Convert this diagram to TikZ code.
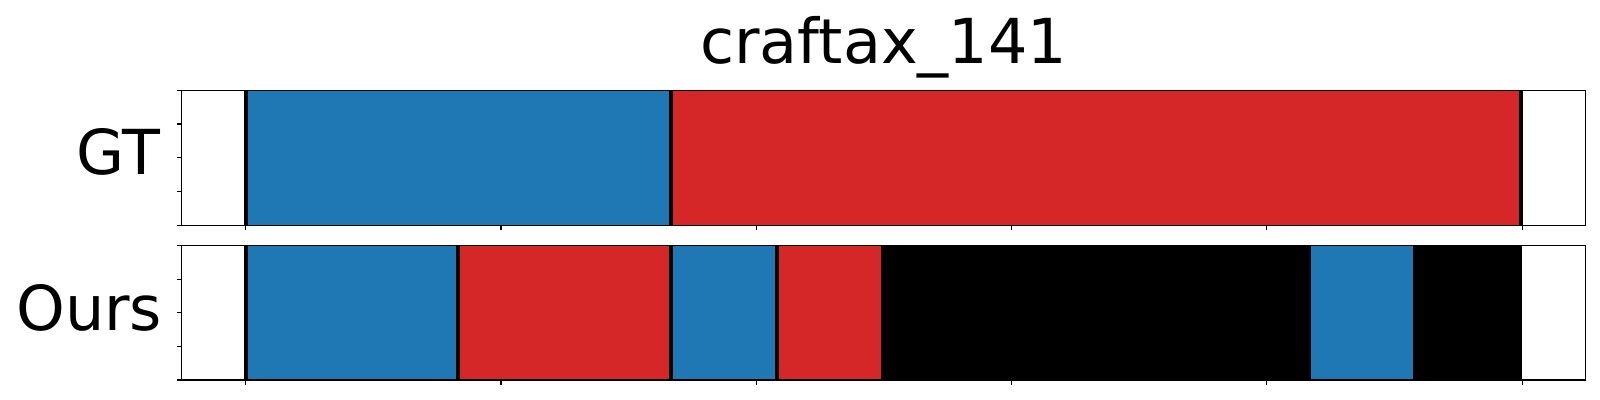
\documentclass[tikz,border=0pt]{standalone}
\usepackage{fontspec}
\setmainfont{DejaVu Sans}
\definecolor{segblue}{HTML}{1F77B4}
\definecolor{segred}{HTML}{D62728}

\begin{document}
\begin{tikzpicture}[
  x=0.5pt, y=-0.5pt,
  spine/.style={draw=black, line width=0.6pt},
  tickmark/.style={draw=black, line width=0.55pt},
  bound/.style={draw=black, line width=2pt},
  lbl/.style={font=\fontsize{31}{37}\selectfont, inner sep=0pt, text=black}
]
  \useasboundingbox (0,0) rectangle (1600,400);

  % GT row
  \foreach \a/\b/\c in {245.7/670.7/segblue, 670.7/1522/segred}
    \fill[\c] (\a,90.3) rectangle (\b,225.3);
  \foreach \x in {245.7, 670.7, 1521}
    \draw[bound] (\x,90.3) -- (\x,225.3);

  % Ours row
  \foreach \a/\b/\c in {245.7/457.7/segblue, 457.7/670.7/segred,
      670.7/776.7/segblue, 776.7/881/segred, 881/1311/black,
      1311/1412.7/segblue, 1412.7/1522/black}
    \fill[\c] (\a,245.7) rectangle (\b,380);
  \foreach \x in {245.7, 457.7, 670.7, 776.7}
    \draw[bound] (\x,245.7) -- (\x,380);

  % Axes frames and ticks
  \draw[spine] (181.7,90.3) rectangle (1585.7,225.3);
  \draw[spine] (181.7,245.7) rectangle (1585.7,380);
  \foreach \k in {0,...,5} {
    \draw[tickmark] ({245.7+255.3*\k},225.3) -- ++(0,5);
    \draw[tickmark] ({245.7+255.3*\k},380) -- ++(0,5);
  }
  \foreach \y in {90.3, 124, 157.8, 191.5, 225.3}
    \draw[tickmark] (181.7,\y) -- ++(-5,0);
  \foreach \y in {245.7, 279.3, 312.8, 346.4, 380}
    \draw[tickmark] (181.7,\y) -- ++(-5,0);

  % Labels
  \node[lbl, anchor=base] (title) at (883.7,63.3) {craftax\_141};
  \node[lbl, anchor=base east] (gtlabel) at (160.5,175) {GT};
  \node[lbl, anchor=base east] (ourslabel) at (162.5,330.5) {Ours};
\end{tikzpicture}
\end{document}
